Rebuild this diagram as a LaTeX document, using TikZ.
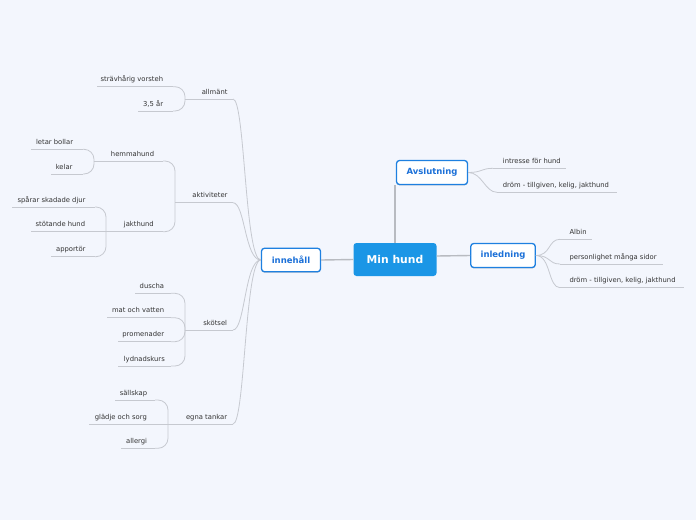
\documentclass[tikz,border=0pt]{standalone}
\usepackage{fontspec}
\setmainfont{DejaVu Sans}
\usetikzlibrary{shadows}
\definecolor{bg}{HTML}{F3F6FD}
\definecolor{rootblue}{HTML}{1B96E6}
\definecolor{mainblue}{HTML}{1E80E0}
\definecolor{maintext}{HTML}{1B70D8}
\definecolor{linegray}{HTML}{C6C9D0}
\definecolor{maingray}{HTML}{B8BBC1}
\definecolor{leaftext}{HTML}{333333}
\tikzset{
  rootbox/.style={fill=rootblue, rounded corners=3pt, minimum width=83pt, minimum height=33pt,
    text=white, font=\fontsize{10.8}{12}\selectfont\bfseries, inner sep=0pt},
  mainbox/.style={draw=mainblue, line width=1.3pt, fill=white, rounded corners=3pt,
    text=maintext, font=\fontsize{8.5}{10}\selectfont\bfseries, inner sep=0pt,
    drop shadow={shadow xshift=0pt, shadow yshift=-0.9pt, opacity=0.22, fill=black}},
  leafL/.style={text=leaftext, font=\fontsize{6.8}{8}\selectfont, anchor=base east, inner sep=0pt},
  leafR/.style={text=leaftext, font=\fontsize{6.8}{8}\selectfont, anchor=base west, inner sep=0pt},
  uline/.style={draw=linegray, line width=0.8pt},
  conn/.style={draw=linegray, line width=0.8pt},
  bracket/.style={draw=linegray, line width=0.8pt, rounded corners=10pt},
  mainconn/.style={draw=maingray, line width=1.4pt}
}
\begin{document}
\begin{tikzpicture}[x=1pt,y=-1pt]
\fill[bg] (0,0) rectangle (696,520);
\useasboundingbox (0,0) rectangle (696,520);

% ---------- central and main nodes ----------
\node[rootbox] (root) at (395,259.5) {Min hund};
\node[mainbox, minimum width=59pt, minimum height=23.5pt] (inn) at (291,260) {innehåll};
\node[mainbox, minimum width=71pt, minimum height=24pt] (avs) at (432,172.5) {Avslutning};
\node[mainbox, minimum width=64.5pt, minimum height=24pt] (inl) at (503,255.5) {inledning};

\draw[mainconn] (root.west) -- (inn.east);
\draw[mainconn] (root.north) -- (root.north |- avs.south);
\draw[mainconn] ([yshift=3.5pt]root.east) -- (inl.west);

% ---------- left side coordinates ----------
\coordinate (allmL) at (185,99);   \coordinate (allmR) at (233,99);
\coordinate (strL) at (97,86.7);   \coordinate (strR) at (173,86.7);
\coordinate (aarL) at (138,111);   \coordinate (aarR) at (173,111);

\coordinate (aktL) at (175,202.7); \coordinate (aktR) at (233,202.7);
\coordinate (hemL) at (94,161);    \coordinate (hemR) at (163,161);
\coordinate (letL) at (31,149.3);  \coordinate (letR) at (83,149.3);
\coordinate (kelL) at (51,174);    \coordinate (kelR) at (83,174);
\coordinate (jakL) at (106,231.7); \coordinate (jakR) at (163,231.7);
\coordinate (sprL) at (12,207);    \coordinate (sprR) at (95,207);
\coordinate (stoL) at (31,231.7);  \coordinate (stoR) at (106,231.7);
\coordinate (appL) at (51,256.7);  \coordinate (appR) at (95,256.7);

\coordinate (skoL) at (185,330);   \coordinate (skoR) at (233,330);
\coordinate (dusL) at (135,293.3); \coordinate (dusR) at (171,293.3);
\coordinate (matL) at (107,317.7); \coordinate (matR) at (171,317.7);
\coordinate (proL) at (118,341.7); \coordinate (proR) at (171,341.7);
\coordinate (lydL) at (118,366);   \coordinate (lydR) at (171,366);

\coordinate (egnL) at (168,424);   \coordinate (egnR) at (233,424);
\coordinate (salL) at (115,400);   \coordinate (salR) at (155,400);
\coordinate (glaL) at (89,424);    \coordinate (glaR) at (168,424);
\coordinate (allL) at (121,448.3); \coordinate (allR) at (155,448.3);

% underlines
\foreach \n in {allm,str,aar,akt,hem,let,kel,jak,spr,sto,app,sko,dus,mat,pro,lyd,egn,sal,gla,all}
  \draw[uline] (\n L) -- (\n R);

% connectors from innehåll
\foreach \n in {allm,akt,sko,egn}
  \draw[conn] (inn.west) .. controls +(-16,0) and +(12,0) .. (\n R);

% brackets
\draw[bracket] (strR) -| (allmL);
\draw[bracket] (aarR) -| (allmL);
\draw[bracket] (hemR) -| (aktL);
\draw[bracket] (jakR) -| (aktL);
\draw[bracket] (letR) -| (hemL);
\draw[bracket] (kelR) -| (hemL);
\draw[bracket] (sprR) -| (jakL);
\draw[bracket] (appR) -| (jakL);
\draw[bracket] (dusR) -| (skoL);
\draw[bracket] (matR) -| (skoL);
\draw[bracket] (proR) -| (skoL);
\draw[bracket] (lydR) -| (skoL);
\draw[bracket] (salR) -| (egnL);
\draw[bracket] (allR) -| (egnL);

% left texts
\node[leafL] (tallm) at (227.7,94) {allmänt};
\node[leafL] (tstr) at (163.3,81.7) {strävhårig vorsteh};
\node[leafL] (taar) at (163.3,106) {3,5 år};
\node[leafL] (takt) at (227.7,197.7) {aktiviteter};
\node[leafL] (them) at (154.3,156) {hemmahund};
\node[leafL] (tlet) at (73.3,144.3) {letar bollar};
\node[leafL] (tkel) at (72.7,169) {kelar};
\node[leafL] (tjak) at (154,226.7) {jakthund};
\node[leafL] (tspr) at (85.7,202) {spårar skadade djur};
\node[leafL] (tsto) at (85.3,226.7) {stötande hund};
\node[leafL] (tapp) at (85.7,251.7) {apportör};
\node[leafL] (tsko) at (227.3,325) {skötsel};
\node[leafL] (tdus) at (164.3,288.3) {duscha};
\node[leafL] (tmat) at (164.3,312.7) {mat och vatten};
\node[leafL] (tpro) at (164.3,336.7) {promenader};
\node[leafL] (tlyd) at (165,361) {lydnadskurs};
\node[leafL] (tegn) at (227.3,419) {egna tankar};
\node[leafL] (tsal) at (147.3,395) {sällskap};
\node[leafL] (tgla) at (147,419) {glädje och sorg};
\node[leafL] (tall) at (147.3,443.3) {allergi};

% ---------- right side ----------
\coordinate (intL) at (493,168.3);  \coordinate (intR) at (566,168.3);
\coordinate (dr1L) at (497,192.3);  \coordinate (dr1R) at (617,192.3);
\coordinate (albL) at (560,239.3);  \coordinate (albR) at (592,239.3);
\coordinate (perL) at (560,264);    \coordinate (perR) at (663,264);
\coordinate (dr2L) at (560,287.7);  \coordinate (dr2R) at (684,287.7);

\foreach \n in {int,dr1,alb,per,dr2}
  \draw[uline] (\n L) -- (\n R);

\foreach \n in {int,dr1}
  \draw[conn] (avs.east) .. controls +(14,0) and +(-12,0) .. (\n L);
\foreach \n in {alb,per,dr2}
  \draw[conn] (inl.east) .. controls +(15,0) and +(-12,0) .. (\n L);

\node[leafR] (tint) at (502.7,163.3) {intresse för hund};
\node[leafR] (tdr1) at (502.7,187.3) {dröm - tillgiven, kelig, jakthund};
\node[leafR] (talb) at (569.3,234.3) {Albin};
\node[leafR] (tper) at (569.3,259) {personlighet många sidor};
\node[leafR] (tdr2) at (569.3,282.7) {dröm - tillgiven, kelig, jakthund};
\end{tikzpicture}
\end{document}
